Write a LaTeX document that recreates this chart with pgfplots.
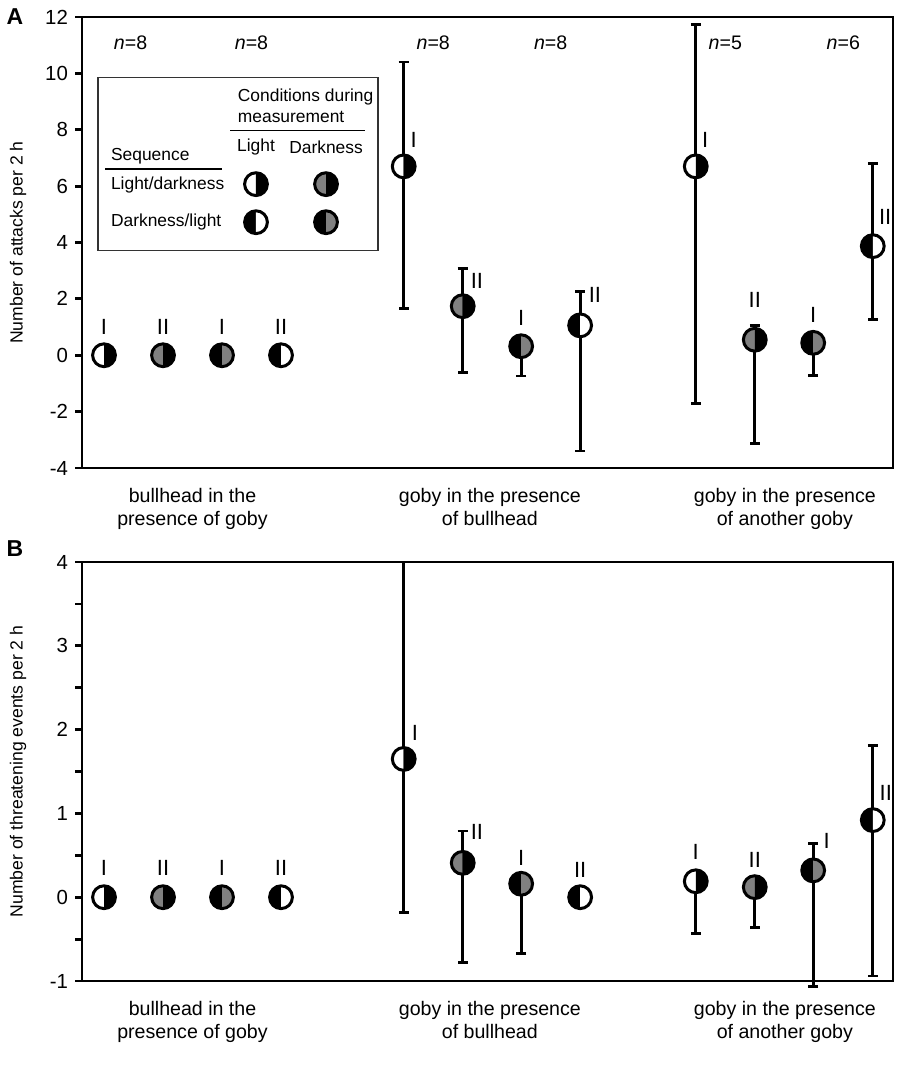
\documentclass[border=0pt]{standalone}
\usepackage{pgfplots}
\pgfplotsset{compat=1.18}
\usepackage{fontspec}
\setmainfont{Liberation Sans}
\definecolor{mgray}{RGB}{128,128,128}

\newcommand{\halfcircle}[2]{%
  \pgfsetfillcolor{#1}%
  \pgfpathmoveto{\pgfqpoint{0pt}{\pgfplotmarksize}}%
  \pgfpatharc{90}{270}{\the\pgfplotmarksize}%
  \pgfpathclose
  \pgfusepath{fill}%
  \pgfsetfillcolor{#2}%
  \pgfpathmoveto{\pgfqpoint{0pt}{-\pgfplotmarksize}}%
  \pgfpatharc{-90}{90}{\the\pgfplotmarksize}%
  \pgfpathclose
  \pgfusepath{fill}%
  \pgfpathcircle{\pgfpointorigin}{\pgfplotmarksize}%
  \pgfusepath{stroke}}
\pgfdeclareplotmark{LDl}{\halfcircle{white}{black}}
\pgfdeclareplotmark{LDd}{\halfcircle{mgray}{black}}
\pgfdeclareplotmark{DLd}{\halfcircle{black}{mgray}}
\pgfdeclareplotmark{DLl}{\halfcircle{black}{white}}

\tikzset{
  lab/.style={font=\fontsize{11}{11}\selectfont},
  lg/.style={font=\fontsize{8.7}{10}\selectfont},
  nl/.style={font=\fontsize{9.8}{10}\selectfont},
}
\pgfplotsset{
  panel/.style={
    scale only axis, width=405.5pt, clip=false,
    xmin=-0.373, xmax=13.373,
    axis line style={line width=1.4pt},
    ytick style={line width=1.4pt, black},
    ytick pos=left, tick align=outside, major tick length=3.5pt,
    xtick={1.5,6.54,11.54},
    xticklabels={{bullhead in the\\presence of goby},{goby in the presence\\of bullhead},{goby in the presence\\of another goby}},
    xtick style={draw=none},
    xticklabel style={align=center, font=\fontsize{9.8}{11.5}\selectfont, yshift=-3pt},
    yticklabel style={font=\fontsize{10.2}{11}\selectfont},
    /pgf/number format/assume math mode=true,
  },
  eb/.style={black, only marks, mark=none, error bars/.cd, y dir=both, y explicit,
    error bar style={line width=1.4pt, black},
    error mark options={rotate=90, line width=1.4pt, black, mark size=2.5pt}},
  mk/.style={black, only marks, mark=#1, mark size=5.7pt, mark options={line width=1.5pt, draw=black}},
}

\begin{document}
\begin{tikzpicture}
\path[use as bounding box] (0,0) rectangle (452.5pt,539.5pt);

% ---------------- Panel A ----------------
\begin{axis}[panel, at={(41pt,305.5pt)}, anchor=south west, height=225.5pt,
  ymin=-4, ymax=12, ytick={-4,-2,...,12}]
\addplot[eb] coordinates {
 (5.08,6.7) += (0,3.7) -= (0,5.03)
 (6.08,1.74) += (0,1.35) -= (0,2.34)
 (7.07,0.32) += (0,0.3) -= (0,1.06)
 (8.07,1.06) += (0,1.21) -= (0,4.46)
 (10.03,6.7) += (0,5.04) -= (0,8.4)
 (11.03,0.55) += (0,0.5) -= (0,3.67)
 (12.02,0.44) += (0,0.3) -= (0,1.15)
 (13.03,3.87) += (0,2.94) -= (0,2.6)
};
\addplot[mk=LDl] coordinates {(0,0) (5.08,6.7) (10.03,6.7)};
\addplot[mk=LDd] coordinates {(1,0) (6.08,1.74) (11.03,0.55)};
\addplot[mk=DLd] coordinates {(2,0) (7.07,0.32) (12.02,0.44)};
\addplot[mk=DLl] coordinates {(3,0) (8.07,1.06) (13.03,3.87)};
% legend symbols
\addplot[mk=LDl] coordinates {(2.576,6.07)};
\addplot[mk=LDd] coordinates {(3.763,6.07)};
\addplot[mk=DLl] coordinates {(2.576,4.72)};
\addplot[mk=DLd] coordinates {(3.763,4.72)};
% labels
\node[lab] at (axis cs:0,0.99) {I};
\node[lab] at (axis cs:1,0.99) {II};
\node[lab] at (axis cs:2,0.99) {I};
\node[lab] at (axis cs:3,0.99) {II};
\node[lab] at (axis cs:5.25,7.63) {I};
\node[lab] at (axis cs:6.32,2.63) {II};
\node[lab] at (axis cs:7.07,1.31) {I};
\node[lab] at (axis cs:8.32,2.13) {II};
\node[lab] at (axis cs:10.19,7.63) {I};
\node[lab] at (axis cs:11.03,1.95) {II};
\node[lab] at (axis cs:12.02,1.42) {I};
\node[lab] at (axis cs:13.24,4.9) {II};
% n labels
\node[nl] at (axis cs:0.45,11.07) {\textit{n}=8};
\node[nl] at (axis cs:2.5,11.07) {\textit{n}=8};
\node[nl] at (axis cs:5.58,11.07) {\textit{n}=8};
\node[nl] at (axis cs:7.57,11.07) {\textit{n}=8};
\node[nl] at (axis cs:10.53,11.07) {\textit{n}=5};
\node[nl] at (axis cs:12.53,11.07) {\textit{n}=6};
% legend box
\draw[line width=0.7pt, black!80] (axis cs:-0.102,9.86) rectangle (axis cs:4.644,3.72);
\node[lg, anchor=west] at (axis cs:2.15,9.15) {Conditions during};
\node[lg, anchor=west] at (axis cs:2.15,8.44) {measurement};
\draw[line width=0.7pt] (axis cs:2.136,7.98) -- (axis cs:4.424,7.98);
\node[lg] at (axis cs:2.576,7.38) {Light};
\node[lg] at (axis cs:3.763,7.36) {Darkness};
\node[lg, anchor=west] at (axis cs:0.0,7.06) {Sequence};
\draw[line width=0.7pt] (axis cs:0.017,6.6) -- (axis cs:2.0,6.6);
\node[lg, anchor=west] at (axis cs:0.0,6.03) {Light/darkness};
\node[lg, anchor=west] at (axis cs:0.0,4.72) {Darkness/light};
\end{axis}

% ---------------- Panel B ----------------
\begin{axis}[panel, at={(41pt,49pt)}, anchor=south west, height=209.5pt,
  ymin=-1, ymax=4, ytick={-1,-0.5,...,4}, yticklabels={-1,,0,,1,,2,,3,,4}]
\addplot[eb] coordinates {
 (5.08,1.65) += (0,2.35) -= (0,1.83)
 (6.08,0.41) += (0,0.38) -= (0,1.19)
 (7.07,0.16) += (0,0.12) -= (0,0.83)
 (10.03,0.19) += (0,0.1) -= (0,0.62)
 (11.03,0.12) += (0,0.1) -= (0,0.48)
 (12.02,0.32) += (0,0.32) -= (0,1.39)
 (13.03,0.92) += (0,0.89) -= (0,1.86)
};
\addplot[mk=LDl] coordinates {(0,0) (5.08,1.65) (10.03,0.19)};
\addplot[mk=LDd] coordinates {(1,0) (6.08,0.41) (11.03,0.12)};
\addplot[mk=DLd] coordinates {(2,0) (7.07,0.16) (12.02,0.32)};
\addplot[mk=DLl] coordinates {(3,0) (8.07,0) (13.03,0.92)};
\node[lab] at (axis cs:0,0.35) {I};
\node[lab] at (axis cs:1,0.35) {II};
\node[lab] at (axis cs:2,0.35) {I};
\node[lab] at (axis cs:3,0.35) {II};
\node[lab] at (axis cs:5.27,1.96) {I};
\node[lab] at (axis cs:6.32,0.78) {II};
\node[lab] at (axis cs:7.07,0.47) {I};
\node[lab] at (axis cs:8.07,0.32) {II};
\node[lab] at (axis cs:10.03,0.54) {I};
\node[lab] at (axis cs:11.03,0.44) {II};
\node[lab] at (axis cs:12.25,0.67) {I};
\node[lab] at (axis cs:13.25,1.24) {II};
\end{axis}

% y labels and panel letters
\node[rotate=90, font=\fontsize{8.8}{10}\selectfont] at (9pt,418.25pt) {Number of attacks per 2 h};
\node[rotate=90, font=\fontsize{8.8}{10}\selectfont] at (9pt,153.75pt) {Number of threatening events per 2 h};
\node[font=\bfseries\fontsize{11.5}{11.5}\selectfont] at (7.5pt,531pt) {A};
\node[font=\bfseries\fontsize{11.5}{11.5}\selectfont] at (7.5pt,265pt) {B};
\end{tikzpicture}
\end{document}
